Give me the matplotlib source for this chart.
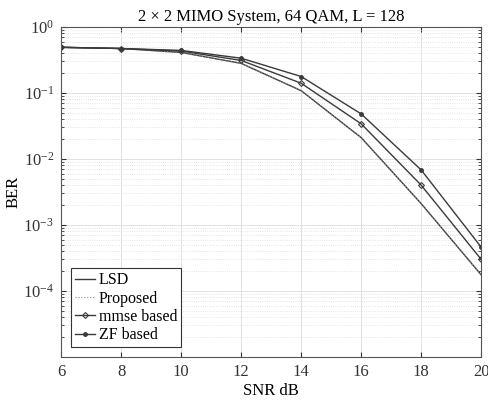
import numpy as np
import matplotlib.pyplot as plt

plt.rcParams['font.family'] = ['Liberation Serif', 'DejaVu Serif']
plt.rcParams['mathtext.fontset'] = 'custom'
plt.rcParams['mathtext.rm'] = 'Liberation Serif'
plt.rcParams['mathtext.it'] = 'Liberation Serif:italic'

snr = [6, 8, 10, 12, 14, 16, 18, 20]
ber_lsd = [0.49, 0.47, 0.41, 0.28, 0.108, 0.021, 0.0021, 0.000175]
ber_proposed = [0.49, 0.47, 0.41, 0.28, 0.108, 0.021, 0.0021, 0.000175]
ber_mmse = [0.49, 0.47, 0.43, 0.31, 0.14, 0.034, 0.0040, 0.00030]
ber_zf = [0.49, 0.47, 0.44, 0.335, 0.177, 0.048, 0.0068, 0.00046]

xticks = [6, 8, 10, 12, 14, 16, 18, 20]
yticks = [1e0, 1e-1, 1e-2, 1e-3, 1e-4]

fig = plt.figure(figsize=(4.89, 4.01), dpi=100)
ax = fig.add_axes([0.125, 0.11, 0.859, 0.823])

c = '#3a3a3a'
ax.semilogy(snr, ber_lsd, '-', color=c, lw=1.0, label='LSD')
ax.semilogy(snr, ber_proposed, ':', color='#888888', lw=0.8, label='Proposed')
ax.semilogy(snr, ber_mmse, '-', color=c, lw=1.0, marker='D', ms=3,
            mfc='none', mew=0.8, label='mmse based')
ax.semilogy(snr, ber_zf, '-', color=c, lw=1.0, marker='o', ms=2.5,
            mfc=c, label='ZF based')

ax.set_xlim(6, 20)
ax.set_ylim(1e-5, 1)
ax.set_xticks(xticks)
ax.set_yticks(yticks)
ax.set_yticklabels([r'$\mathrm{10^{0}}$', r'$\mathrm{10^{-1}}$', r'$\mathrm{10^{-2}}$',
                    r'$\mathrm{10^{-3}}$', r'$\mathrm{10^{-4}}$'])
ax.grid(True, which='major', color='#dddddd', lw=0.6, ls='-')
ax.grid(True, which='minor', color='#dddddd', lw=0.6, ls=':')
ax.tick_params(which='both', direction='in', top=True, right=True, labelsize=12,
               colors='#333333', pad=5)
for s in ax.spines.values():
    s.set_color('#555555')

ax.set_xlabel('SNR dB', fontsize=12, labelpad=2)
ax.set_ylabel('BER', fontsize=12, labelpad=1)
ax.set_title('2 × 2 MIMO System, 64 QAM, L = 128', fontsize=12, pad=4)

leg = ax.legend(loc='lower left', fontsize=11.5, fancybox=False, framealpha=1,
                edgecolor='#333333', borderpad=0.25, labelspacing=0.15,
                handlelength=1.3, handletextpad=0.2, borderaxespad=0.6)
leg.get_frame().set_linewidth(0.8)

fig.savefig('out.png', dpi=100)
